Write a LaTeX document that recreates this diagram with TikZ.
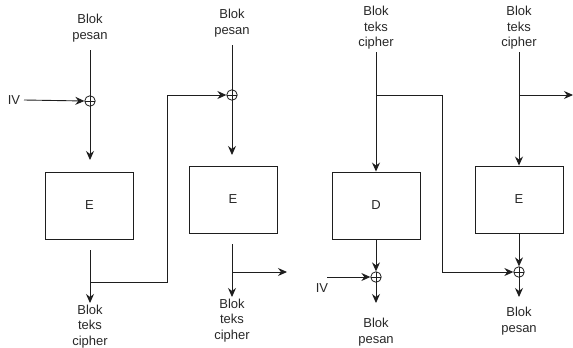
\documentclass[tikz,border=0pt]{standalone}
\usepackage{fontspec}
\setmainfont{Liberation Sans}
\usetikzlibrary{arrows.meta}
\definecolor{ink}{RGB}{30,30,30}
\definecolor{txt}{RGB}{40,40,40}
\begin{document}
\begin{tikzpicture}[x=1pt,y=-1pt,
  line/.style={draw=ink,line width=0.9pt},
  arr/.style={line,-{Stealth[length=9pt,width=8pt,inset=3pt]}},
  blk/.style={draw=ink,line width=0.9pt,minimum width=88pt,minimum height=67pt,inner sep=0pt,font=\fontsize{13}{15.5}\selectfont,text=txt},
  lbl/.style={align=center,font=\fontsize{13}{15.5}\selectfont,text=txt,inner sep=0pt},
  xor/.style={circle,draw=ink,line width=0.8pt,minimum size=10.5pt,inner sep=0pt,
    path picture={\draw[ink,line width=0.8pt] (path picture bounding box.north) -- (path picture bounding box.south)
      (path picture bounding box.west) -- (path picture bounding box.east);}}]
\useasboundingbox (0,0) rectangle (573,348);
\clip (0,0) rectangle (573,348);

% ---------- panel 1 ----------
\node[lbl] (t1) at (90,28) {Blok\\pesan};
\node[xor] (x1) at (90,101) {};
\node[lbl] (iv1) at (14,100) {IV};
\node[blk] (b1) at (89.5,205.5) {E};
\node[lbl] (c1) at (90,326.5) {Blok\\teks\\cipher};
\coordinate (s1) at (90,50);
\coordinate (e1) at (90,160);
\coordinate (v1) at (24,100);
\coordinate (o1) at (90,250);
\coordinate (f1) at (90,303);
\coordinate (j1) at (90,282);
\coordinate (k1) at (167,95);
\draw[arr] (s1) -- (e1);
\draw[arr] (v1) -- (x1.west);
\draw[arr] (o1) -- (f1);

% ---------- panel 2 ----------
\node[lbl] (t2) at (232,23) {Blok\\pesan};
\node[xor] (x2) at (232,95) {};
\node[blk] (b2) at (233,199.5) {E};
\node[lbl] (c2) at (232,320.5) {Blok\\teks\\cipher};
\coordinate (s2) at (232,45);
\coordinate (e2) at (232,155);
\coordinate (o2) at (232,244);
\coordinate (f2) at (232,297);
\coordinate (j2) at (232,272);
\coordinate (r2) at (287,272);
\draw[arr] (s2) -- (e2);
\draw[arr] (j1) -| (k1) -- (x2.west);
\draw[arr] (o2) -- (f2);
\draw[arr] (j2) -- (r2);

% ---------- panel 3 ----------
\node[lbl] (t3) at (376,28) {Blok\\teks\\cipher};
\node[blk] (b3) at (376,205.5) {D};
\node[xor] (x3) at (376,277) {};
\node[lbl] (iv3) at (322,288) {IV};
\node[lbl] (p3) at (376,332) {Blok\\pesan};
\coordinate (s3) at (376,52);
\coordinate (j3) at (376,95);
\coordinate (k3) at (442,272);
\coordinate (v3) at (327,277);
\coordinate (f3) at (376,303);
\draw[arr] (s3) -- (b3.north);
\draw[arr] (b3.south) -- (x3.north);
\draw[arr] (v3) -- (x3.west);
\draw[arr] (x3.center) -- (f3);

% ---------- panel 4 ----------
\node[lbl] (t4) at (519,28) {Blok\\teks\\cipher};
\node[blk] (b4) at (519,199.5) {E};
\node[xor] (x4) at (519,272) {};
\node[lbl] (p4) at (519,321) {Blok\\pesan};
\coordinate (s4) at (519,52);
\coordinate (j4) at (519,95);
\coordinate (r4) at (573,95);
\coordinate (f4) at (519,297);
\draw[arr] (s4) -- (b4.north);
\draw[arr] (j4) -- (r4);
\draw[arr] (b4.south) -- (x4.north);
\draw[arr] (j3) -| (k3) -- (x4.west);
\draw[arr] (x4.center) -- (f4);
\end{tikzpicture}
\end{document}
